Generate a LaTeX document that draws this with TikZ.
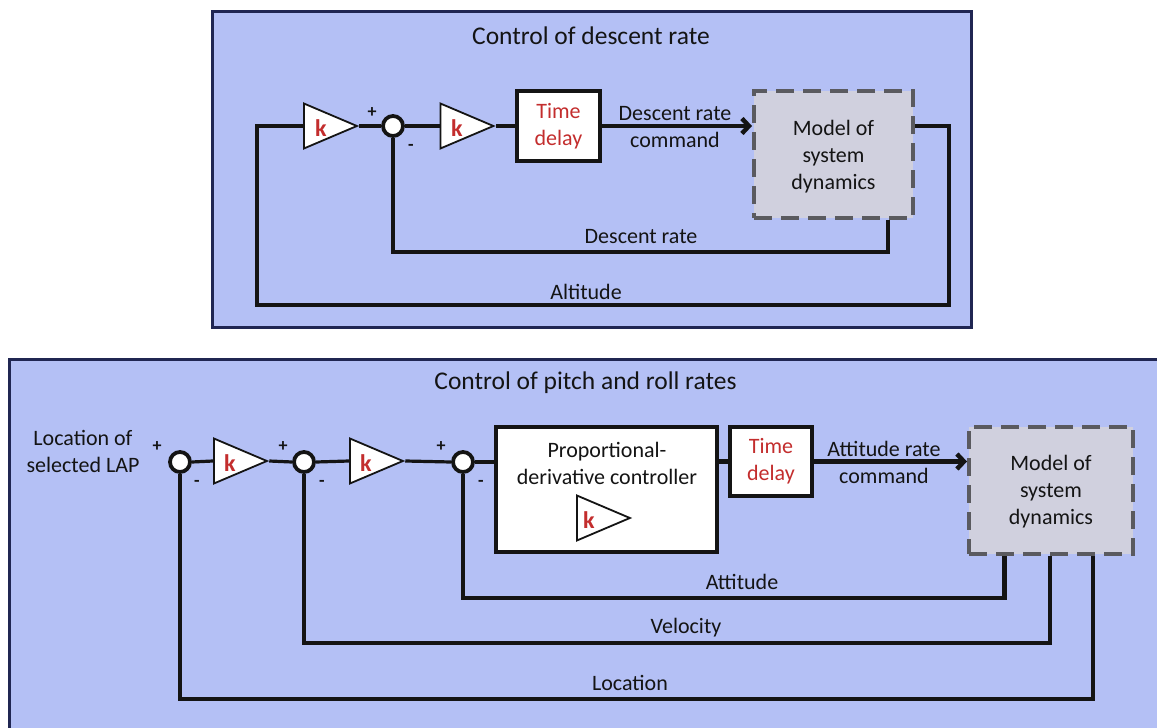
\documentclass[tikz,border=0pt]{standalone}
\usepackage{fontspec}
\setmainfont{Carlito}
\usetikzlibrary{shapes.geometric,arrows.meta}
\definecolor{panelbg}{RGB}{180,192,245}
\definecolor{panelline}{RGB}{32,38,82}
\definecolor{modelbg}{RGB}{208,208,222}
\definecolor{modeldash}{RGB}{90,90,95}
\definecolor{kred}{RGB}{195,45,45}
\definecolor{ink}{RGB}{20,20,20}
\begin{document}
\begin{tikzpicture}[x=1pt,y=-1pt,
  panel/.style={draw=panelline,line width=3pt,fill=panelbg},
  wire/.style={draw=ink,line width=4.5pt},
  thinwire/.style={draw=ink,line width=3.2pt},
  gain/.style={shape=isosceles triangle,isosceles triangle stretches,draw=ink,fill=white,line width=1.8pt,minimum width=45pt,minimum height=53pt,inner sep=0pt,anchor=west},
  kay/.style={text=kred,font=\bfseries\fontsize{24}{24}\selectfont},
  sumj/.style={circle,draw=ink,fill=white,line width=3.8pt,minimum size=20pt,inner sep=0pt},
  blockbox/.style={draw=ink,fill=white,line width=4.5pt,inner sep=0pt},
  delaytxt/.style={text=kred,align=center,font=\fontsize{22}{27}\selectfont},
  model/.style={draw=modeldash,fill=modelbg,line width=4pt,dash pattern=on 18pt off 9pt,inner sep=0pt},
  lbl/.style={text=ink,align=center,font=\fontsize{22}{27}\selectfont},
  ttl/.style={text=ink,font=\fontsize{25.5}{30}\selectfont},
  sgn/.style={text=ink,font=\bfseries\fontsize{18}{18}\selectfont},
  arr/.style={-{Straight Barb[length=7pt,width=15pt,line width=4.5pt]}}
]
\useasboundingbox (0,0) rectangle (1157,728);
\clip (0,0) rectangle (1157,728);
\fill[white] (0,0) rectangle (1157,728);

% ---------------- top panel ----------------
\draw[panel] (212,11) rectangle (971,327);
\node[ttl] (t1) at (591,36) {Control of descent rate};

\node[gain] (g1) at (303,126) {};
\node[kay] (k1) at (321,128) {k};
\node[sumj] (c1) at (393,126) {};
\node[gain] (g2) at (439.5,126) {};
\node[kay] (k2) at (457,128) {k};
\node[blockbox,minimum width=83pt,minimum height=70pt] (td1) at (558.5,126) {};
\node[delaytxt] (td1t) at (td1.center) {Time\\delay};
\node[model,minimum width=159pt,minimum height=127pt] (m1) at (833.5,154.5) {};
\node[lbl] (m1t) at (833.5,157) {Model of\\system\\dynamics};

\draw[wire] (g1.east) -- (c1.west);
\draw[wire] (c1.east) -- (g2.west);
\draw[wire] (g2.east) -- (td1.west);
\draw[wire,arr] (td1.east) -- (m1.west |- td1.east);
\node[lbl] (cmd1) at (675,127.5) {Descent rate\\command};

\coordinate (m1r) at (m1.east |- td1.east);
\draw[wire] (m1r) -- ++(34,0) |- (257,305) |- (g1.west);
\draw[wire] ([xshift=54.5pt]m1.south) -- ++(0,32) -| (c1.south);

\node[lbl] (dr) at (641,237) {Descent rate};
\node[lbl] (alt) at (586,292) {Altitude};
\node[sgn] (p1) at (372,113) {+};
\node[sgn] (n1) at (411,147) {-};

% ---------------- bottom panel ----------------
\draw[panel] (9,359) rectangle (1175,745);
\node[ttl] (t2) at (585.5,383) {Control of pitch and roll rates};

\node[lbl] (lap) at (83,451) {Location of\\selected LAP};
\node[sumj] (c2) at (180,462) {};
\node[gain] (g3) at (213,461) {};
\node[kay] (k3) at (230,463) {k};
\node[sumj] (c3) at (304,462) {};
\node[gain] (g4) at (349,461) {};
\node[kay] (k4) at (366,463) {k};
\node[sumj] (c4) at (463,462) {};
\node[blockbox,minimum width=221pt,minimum height=125pt] (pd) at (606.5,489.5) {};
\node[lbl] (pdt) at (607,463) {Proportional-\\derivative controller};
\node[gain] (g5) at (576,518) {};
\node[kay] (k5) at (589,520) {k};
\node[blockbox,minimum width=82pt,minimum height=69pt] (td2) at (771,461.5) {};
\node[delaytxt] (td2t) at (td2.center) {Time\\delay};
\node[model,minimum width=164pt,minimum height=127pt] (m2) at (1051,490.5) {};
\node[lbl] (m2t) at (1051,492) {Model of\\system\\dynamics};

\draw[thinwire] (c2.east) -- (g3.west);
\draw[thinwire] (g3.east) -- (c3.west);
\draw[thinwire] (c3.east) -- (g4.west);
\draw[thinwire] (g4.east) -- (c4.west);
\draw[thinwire] (c4.east) -- (c4.east -| pd.west);
\draw[wire] (td2.west -| pd.east) -- (td2.west);
\draw[wire,arr] (td2.east) -- (td2.east -| m2.west);
\node[lbl] (cmd2) at (884,462.5) {Attitude rate\\command};

\draw[wire] ([xshift=-46.5pt]m2.south) -- ++(0,42) -| (c4.south);
\draw[wire] ([xshift=-1pt]m2.south) -- ++(0,87) -| (c3.south);
\draw[wire] ([xshift=42pt]m2.south) -- ++(0,143) -| (c2.south);

\node[lbl] (att) at (742,582) {Attitude};
\node[lbl] (vel) at (686,628) {Velocity};
\node[lbl] (loc) at (630,683) {Location};

\node[sgn] (p2) at (157,447) {+};
\node[sgn] (n2) at (197,483) {-};
\node[sgn] (p3) at (283,447) {+};
\node[sgn] (n3) at (322,483) {-};
\node[sgn] (p4) at (441,447) {+};
\node[sgn] (n4) at (481,483) {-};
\end{tikzpicture}
\end{document}
